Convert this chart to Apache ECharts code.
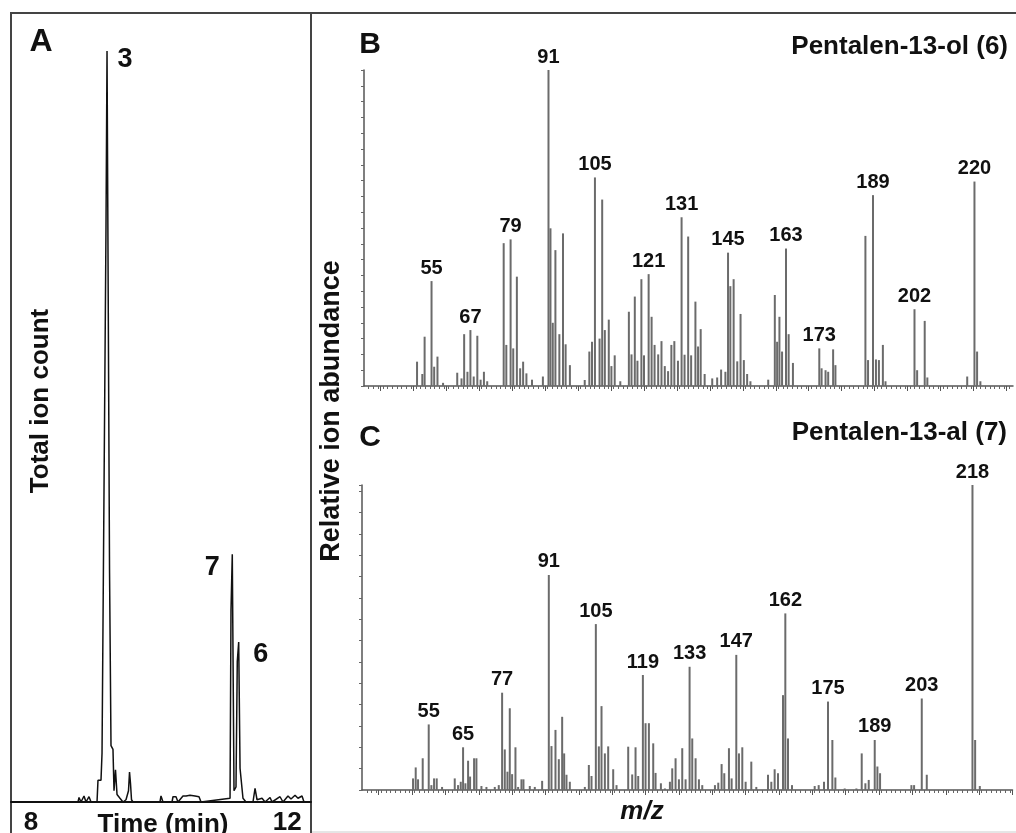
<!DOCTYPE html>
<html>
<head>
<meta charset="utf-8">
<title>Pentalen-13-ol / Pentalen-13-al GC-MS</title>
<script src="https://cdn.jsdelivr.net/npm/echarts@6/dist/echarts.min.js"></script>
<style>
  html, body { margin: 0; padding: 0; background: #fff; }
  #main { width: 1016px; height: 833px; }
</style>
</head>
<body>
<div id="main"></div>
<script>
// A: total ion chromatogram (time in min, % of peak 3)
const timeA = [7.690, 8.735, 8.751, 8.782, 8.829, 8.860, 8.907, 8.938, 9.032, 9.047, 9.094, 9.110, 9.141,
  9.172, 9.188, 9.227, 9.250, 9.281, 9.297, 9.320, 9.344, 9.390, 9.437, 9.484, 9.523, 9.539, 9.554, 9.570,
  9.593, 10.014, 10.030, 10.061, 10.202, 10.217, 10.264, 10.295, 10.373, 10.420, 10.483, 10.561, 10.623,
  10.654, 11.107, 11.122, 11.142, 11.169, 11.200, 11.220, 11.242, 11.263, 11.286, 11.309, 11.356, 11.465,
  11.497, 11.528, 11.606, 11.653, 11.731, 11.762, 11.887, 11.933, 12.011, 12.058, 12.121, 12.167, 12.230,
  12.261, 12.370];
const ticA = [0, 0, 0.6, 0, 0.8, 0, 0.7, 0, 0, 2.9, 2.9, 6.5, 6.5,
  76.6, 100, 31, 7.5, 7, 1.5, 4.3, 1.0, 0.5, 0, 0.3, 1.5, 4.0, 2.5, 0.3,
  0, 0, 0.8, 0, 0, 0.7, 0.7, 0, 0.8, 0.8, 0.9, 0.8, 0.7,
  0, 0.5, 25.6, 33.0, 1.5, 2.0, 18.7, 21.3, 4.5, 4.5, 0.5, 0, 0,
  1.8, 0.3, 0.5, 0, 0.6, 0, 0.7, 0, 0.8, 0.4, 0.9, 0.5, 0.8,
  0, 0];
const peakNamesA = ['3', '7', '6'];
const peakTimesA = [9.188, 11.142, 11.242];
const timeLabelsA = [8, 12];

// B: Pentalen-13-ol (6), m/z and relative abundance
const mzB = [51.1, 52.7, 53.4, 55.5, 56.3, 57.3, 59.0, 63.3, 64.6, 65.4, 66.4, 67.3, 68.3, 69.4, 70.4, 71.4,
  72.4, 77.4, 78.2, 79.5, 80.3, 81.4, 82.4, 83.3, 84.3, 86.0, 89.3, 91.0, 91.6, 92.3, 93.1, 94.3, 95.4, 96.2,
  97.5, 102.0, 103.4, 104.2, 105.1, 106.5, 107.3, 108.1, 109.3, 110.1, 111.1, 112.8, 115.4, 116.2, 117.2,
  118.0, 119.2, 120.0, 121.4, 122.3, 123.2, 124.3, 125.3, 126.3, 127.3, 128.3, 129.2, 130.3, 131.4, 132.3,
  133.4, 134.3, 135.6, 136.4, 137.2, 138.4, 140.7, 142.2, 143.4, 144.7, 145.5, 146.2, 147.2, 148.3, 149.3,
  150.3, 151.3, 152.3, 157.7, 159.7, 160.4, 161.1, 161.9, 163.1, 163.9, 165.2, 173.2, 173.9, 175.1, 175.9,
  177.4, 178.1, 187.2, 188.0, 189.5, 190.4, 191.3, 192.5, 193.3, 202.1, 202.9, 205.2, 206.0, 218.1, 220.3,
  221.1, 222.1];
const abB = [7.7, 3.8, 15.6, 33.2, 6.1, 9.3, 1.0, 4.2, 2.4, 16.4, 4.5, 17.7, 3.0, 15.9, 2.0, 4.5,
  1.5, 45.2, 13.0, 46.4, 11.9, 34.6, 5.6, 7.7, 4.0, 2.0, 3.0, 100, 49.9, 20.0, 43.0, 16.4, 48.3, 13.2,
  6.6, 1.9, 10.9, 14.0, 66.0, 15.0, 59.0, 17.7, 21.0, 6.3, 9.7, 1.5, 23.5, 10.0, 28.3,
  8.0, 33.8, 9.7, 35.4, 21.9, 13.0, 10.0, 14.2, 6.3, 4.7, 13.0, 14.2, 8.0, 53.4, 9.9,
  47.3, 9.7, 26.7, 12.5, 18.0, 3.8, 2.4, 2.7, 5.2, 4.5, 42.2, 31.6, 33.8, 7.8, 22.8,
  8.2, 3.8, 1.5, 2.0, 28.8, 14.0, 21.9, 10.9, 43.5, 16.4, 7.3, 11.9, 5.6, 5.0, 4.5,
  11.6, 6.6, 47.5, 8.2, 60.4, 8.4, 8.2, 13.0, 1.5, 24.3, 5.0, 20.6, 2.7, 3.0, 64.7,
  10.9, 1.5];
const labelsB = [55, 67, 79, 91, 105, 121, 131, 145, 163, 173, 189, 202, 220];

// C: Pentalen-13-al (7)
const mzC = [50.3, 51.1, 51.8, 53.2, 55.0, 55.8, 56.6, 57.4, 59.0, 62.8, 63.8, 64.6, 65.3, 66.0, 66.8, 67.4,
  68.6, 69.3, 70.8, 72.3, 74.8, 76.0, 77.0, 77.8, 78.6, 79.3, 80.0, 81.0, 81.8, 82.8, 83.4, 85.3, 86.8, 89.0,
  91.0, 91.8, 93.0, 94.0, 95.0, 95.6, 96.3, 97.3, 101.8, 103.0, 103.8, 105.1, 106.0, 106.8, 107.8, 108.8,
  110.3, 111.3, 114.8, 116.0, 117.0, 117.8, 119.2, 120.0, 121.0, 122.3, 123.0, 124.6, 125.8, 127.3, 128.0,
  129.0, 130.0, 131.0, 132.0, 133.2, 134.0, 135.0, 136.0, 137.0, 140.8, 141.8, 142.8, 143.6, 145.0, 145.8,
  147.2, 148.0, 149.0, 150.0, 151.7, 153.2, 156.7, 157.7, 158.7, 159.7, 161.2, 161.9, 162.7, 163.9, 170.7,
  171.9, 173.5, 174.7, 176.0, 176.9, 179.7, 183.2, 184.8, 185.9, 186.9, 188.7, 189.5, 190.3, 199.7, 200.5,
  202.8, 204.3, 218.0, 218.8, 220.2];
const abC = [3.8, 7.4, 3.5, 10.4, 21.5, 1.6, 3.8, 3.8, 1.0, 3.8, 1.6, 2.7, 14.0, 2.2, 9.6, 4.4,
  10.4, 10.4, 1.3, 1.0, 1.0, 1.6, 31.9, 13.3, 6.0, 26.8, 5.2, 14.0, 1.0, 3.5, 3.5, 1.3, 1.0, 3.0,
  70.5, 14.4, 19.7, 10.1, 24.0, 12.0, 5.0, 2.7, 1.0, 8.2, 4.6, 54.4, 14.3, 27.5, 12.0, 14.3,
  6.8, 1.6, 14.2, 5.1, 14.0, 4.6, 37.7, 21.9, 21.9, 15.3, 5.6, 2.2, 0.5, 2.7, 7.1,
  10.4, 3.5, 13.7, 3.5, 40.4, 16.9, 10.4, 3.5, 1.6, 1.6, 2.4, 8.5, 5.5, 13.7, 3.8,
  44.3, 12.0, 14.0, 2.7, 9.3, 1.0, 5.0, 2.7, 6.8, 5.5, 31.1, 57.9, 16.9, 1.6, 1.3,
  1.6, 2.7, 29.0, 16.4, 4.1, 0.5, 0.5, 12.0, 2.2, 3.3, 16.4, 7.7, 5.5, 1.6, 1.6,
  30.0, 5.0, 100, 16.4, 1.3];
const labelsC = [55, 65, 77, 91, 105, 119, 133, 147, 162, 175, 189, 203, 218];

const FONT = "'Liberation Sans', Arial, sans-serif";
const INK = '#111';

function tickRange(a, b, step) {
  const out = [];
  for (let v = a; v <= b + 1e-9; v += step) out.push(+v.toFixed(3));
  return out;
}

// each labelled m/z goes on the tallest stick within 1 unit of it
function spectrumData(mz, ab, labels) {
  const data = mz.map((m, i) => ({ value: [m, ab[i]] }));
  labels.forEach(l => {
    let best = -1;
    mz.forEach((m, i) => {
      if (Math.abs(m - l) <= 1 && (best < 0 || ab[i] > ab[best])) best = i;
    });
    if (best >= 0) data[best].label = { show: true, formatter: String(l) };
  });
  return data;
}

const peakLabelPos = {
  '3': { position: 'right', distance: 10, offset: [0, 9] },
  '7': { position: 'left', distance: 12, offset: [0, 13] },
  '6': { position: 'right', distance: 14, offset: [0, 13] }
};

function specXAxes(grid, max) {
  return [
    {
      type: 'value', gridIndex: grid, min: 35, max: max, position: 'bottom',
      axisLine: { lineStyle: { color: '#555', width: 1.5 } },
      axisTick: { customValues: tickRange(40, max, 10), length: 5, lineStyle: { color: '#555' } },
      axisLabel: { show: false }, splitLine: { show: false }
    },
    {
      type: 'value', gridIndex: grid, min: 35, max: max, position: 'bottom',
      axisLine: { show: false },
      axisTick: { customValues: tickRange(35 + 10 / 7, max, 10 / 7), length: 3, lineStyle: { color: '#666' } },
      axisLabel: { show: false }, splitLine: { show: false }
    }
  ];
}

function specYAxis(grid, interval) {
  return {
    type: 'value', gridIndex: grid, min: 0, max: 100, interval: interval,
    axisLine: { show: true, lineStyle: { color: '#555', width: 1.5 } },
    axisTick: { show: true, length: 3, lineStyle: { color: '#666' } },
    axisLabel: { show: false }, splitLine: { show: false }
  };
}

function specSeries(xIdx, yIdx, data) {
  return {
    type: 'bar', xAxisIndex: xIdx, yAxisIndex: yIdx, data: data,
    barWidth: 2,
    itemStyle: { color: '#6b6b6b' },
    label: {
      show: false, position: 'top', distance: 3,
      fontFamily: FONT, fontSize: 20, fontWeight: 'bold', color: INK
    }
  };
}

const chart = echarts.init(document.getElementById('main'));

const option = {
  animation: false,
  backgroundColor: '#fff',
  grid: [
    { left: 11, top: 51, width: 300, height: 751, outerBoundsMode: 'none' },
    { left: 364, top: 70, width: 649, height: 316, outerBoundsMode: 'none' },
    { left: 362, top: 485, width: 650.5, height: 305, outerBoundsMode: 'none' }
  ],
  xAxis: [
    {
      type: 'value', gridIndex: 0, min: 7.69, max: 12.37,
      axisLine: { lineStyle: { color: INK, width: 2 } },
      axisTick: { show: false },
      axisLabel: {
        customValues: timeLabelsA, margin: 8,
        fontFamily: FONT, fontSize: 26, fontWeight: 'bold', color: INK
      },
      splitLine: { show: false }
    },
    ...specXAxes(1, 232),
    ...specXAxes(2, 230)
  ],
  yAxis: [
    { type: 'value', gridIndex: 0, min: 0, max: 100, show: false },
    specYAxis(1, 5),
    specYAxis(2, 7)
  ],
  series: [
    {
      type: 'line', xAxisIndex: 0, yAxisIndex: 0,
      data: timeA.map((t, i) => [t, ticA[i]]),
      symbol: 'none',
      lineStyle: { color: INK, width: 1.5 }
    },
    {
      type: 'scatter', xAxisIndex: 0, yAxisIndex: 0,
      symbolSize: 1, itemStyle: { color: 'rgba(0,0,0,0)', opacity: 1 },
      data: peakNamesA.map((n, k) => ({
        value: [peakTimesA[k], ticA[timeA.indexOf(peakTimesA[k])]],
        label: Object.assign({
          show: true, formatter: n,
          fontFamily: FONT, fontSize: 27, fontWeight: 'bold', color: INK
        }, peakLabelPos[n])
      }))
    },
    specSeries(1, 1, spectrumData(mzB, abB, labelsB)),
    specSeries(3, 2, spectrumData(mzC, abC, labelsC))
  ],
  graphic: [
    { type: 'rect', shape: { x: 11, y: 13, width: 1012, height: 830 },
      style: { fill: 'none', stroke: '#444', lineWidth: 2 } },
    { type: 'line', shape: { x1: 311, y1: 13, x2: 311, y2: 840 },
      style: { stroke: '#444', lineWidth: 2 } },
    { type: 'line', shape: { x1: 312, y1: 832, x2: 1016, y2: 832 },
      style: { stroke: '#ccc', lineWidth: 1 } },
    { type: 'text', x: 41, y: 42,
      style: { text: 'A', font: 'bold 32px ' + FONT, fill: INK, align: 'center', verticalAlign: 'middle' } },
    { type: 'text', x: 370, y: 45,
      style: { text: 'B', font: 'bold 30px ' + FONT, fill: INK, align: 'center', verticalAlign: 'middle' } },
    { type: 'text', x: 370, y: 438,
      style: { text: 'C', font: 'bold 30px ' + FONT, fill: INK, align: 'center', verticalAlign: 'middle' } },
    { type: 'text', x: 1008, y: 47,
      style: { text: 'Pentalen-13-ol (6)', font: 'bold 26px ' + FONT, fill: INK, align: 'right', verticalAlign: 'middle' } },
    { type: 'text', x: 1007, y: 433,
      style: { text: 'Pentalen-13-al (7)', font: 'bold 26px ' + FONT, fill: INK, align: 'right', verticalAlign: 'middle' } },
    { type: 'text', x: 41, y: 401, rotation: Math.PI / 2,
      style: { text: 'Total ion count', font: 'bold 26px ' + FONT, fill: INK, align: 'center', verticalAlign: 'middle' } },
    { type: 'text', x: 332, y: 411, rotation: Math.PI / 2,
      style: { text: 'Relative ion abundance', font: 'bold 27px ' + FONT, fill: INK, align: 'center', verticalAlign: 'middle' } },
    { type: 'text', x: 163, y: 825,
      style: { text: 'Time (min)', font: 'bold 26px ' + FONT, fill: INK, align: 'center', verticalAlign: 'middle' } },
    { type: 'text', x: 642, y: 812,
      style: { text: 'm/z', font: 'italic bold 26px ' + FONT, fill: INK, align: 'center', verticalAlign: 'middle' } }
  ]
};

chart.setOption(option);
</script>
</body>
</html>
